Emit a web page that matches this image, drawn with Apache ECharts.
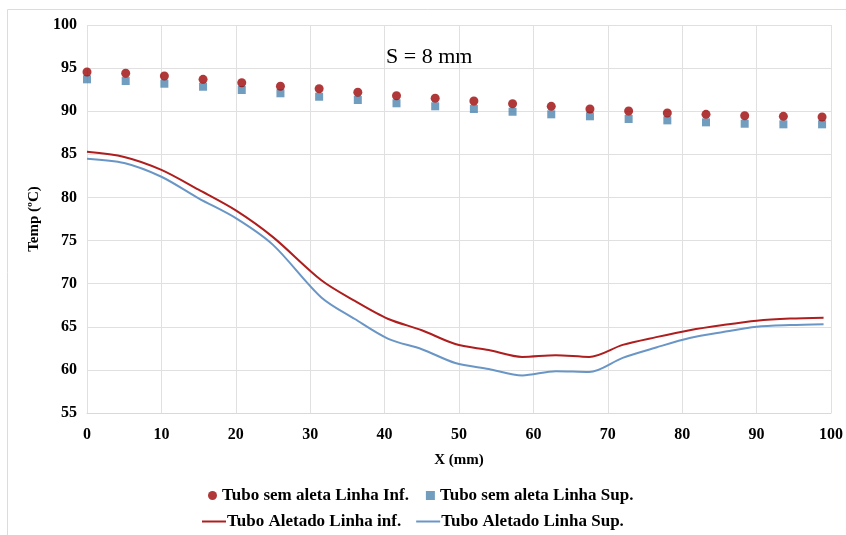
<!DOCTYPE html>
<html>
<head>
<meta charset="utf-8">
<script src="https://cdn.jsdelivr.net/npm/echarts@6/dist/echarts.min.js"></script>
<style>
  html, body { margin: 0; padding: 0; background: #fff; }
  #chart { width: 846px; height: 535px; }
</style>
</head>
<body>
<div id="chart"></div>
<script>
// pontos medidos (tubo sem aleta)
var xPts = [0, 5.2, 10.4, 15.6, 20.8, 26, 31.2, 36.4, 41.6, 46.8, 52, 57.2, 62.4, 67.6, 72.8, 78, 83.2, 88.4, 93.6, 98.8]
var semAletaInf = [94.55, 94.4, 94.08, 93.7, 93.3, 92.9, 92.6, 92.2, 91.8, 91.5, 91.18, 90.87, 90.57, 90.26, 90.02, 89.79, 89.64, 89.48, 89.41, 89.33]
var semAletaSup = [93.7, 93.5, 93.19, 92.84, 92.46, 92.08, 91.68, 91.3, 90.92, 90.57, 90.26, 89.94, 89.64, 89.41, 89.1, 88.94, 88.71, 88.55, 88.48, 88.48]

// curvas (tubo aletado)
var xLine = [0, 5, 10, 15, 20, 25, 31.5, 36, 40.5, 45, 49.5, 54, 58.5, 63, 67.5, 72, 76.5, 81, 85.5, 90, 94.5, 99]
var aletadoInf = [85.3, 84.7, 83.2, 80.9, 78.5, 75.4, 70.4, 68.0, 65.9, 64.6, 63.0, 62.3, 61.5, 61.7, 61.5, 62.9, 63.8, 64.6, 65.2, 65.7, 65.95, 66.05]
var aletadoSup = [84.5, 84.0, 82.4, 79.9, 77.6, 74.5, 68.4, 65.9, 63.6, 62.4, 60.8, 60.1, 59.35, 59.85, 59.75, 61.4, 62.6, 63.7, 64.4, 65.0, 65.2, 65.3]

var names = ['Tubo sem aleta Linha Inf.', 'Tubo sem aleta Linha Sup.', 'Tubo Aletado Linha inf.', 'Tubo Aletado Linha Sup.']

function pairs(xs, ys) {
  return xs.map(function (x, i) { return [x, ys[i]] })
}

var serif = '"Liberation Serif", "Times New Roman", serif'
var legendText = { fontFamily: serif, fontWeight: 'bold', fontSize: 17, color: '#000' }
var lineIcon = 'path://M0,0 L24,0 L24,2 L0,2 Z'
var myChart = echarts.init(document.getElementById('chart'))

var option = {
  backgroundColor: '#ffffff',
  animation: false,
  grid: { left: 87, right: 14, top: 25, bottom: 122 },
  graphic: [
    {
      type: 'rect',
      shape: { x: 7.5, y: 9.5, width: 850, height: 540 },
      style: { fill: 'none', stroke: '#dcdcdc', lineWidth: 1 },
      silent: true
    },
    {
      type: 'text',
      left: 386,
      top: 46,
      style: { text: 'S = 8 mm', font: '22px ' + serif, fill: '#000' }
    }
  ],
  legend: [
    {
      data: [
        { name: names[0], icon: 'circle' },
        { name: names[1], icon: 'rect' }
      ],
      top: 482,
      left: 203,
      itemGap: 17,
      itemWidth: 9,
      itemHeight: 9,
      textStyle: legendText
    },
    {
      data: [
        { name: names[2], icon: lineIcon },
        { name: names[3], icon: lineIcon }
      ],
      top: 508,
      left: 197,
      itemGap: 15,
      itemWidth: 24,
      itemHeight: 2,
      textStyle: Object.assign({}, legendText, { padding: [0, 0, 0, -4] })
    }
  ],
  xAxis: {
    type: 'value',
    min: 0,
    max: 100,
    interval: 10,
    name: 'X (mm)',
    nameLocation: 'middle',
    nameGap: 40,
    nameTextStyle: { fontFamily: serif, fontWeight: 'bold', fontSize: 15, color: '#000' },
    axisLine: { show: true, lineStyle: { color: '#d9d9d9' } },
    axisTick: { show: false },
    axisLabel: { fontFamily: serif, fontWeight: 'bold', fontSize: 16, color: '#000', margin: 14 },
    splitLine: { show: true, lineStyle: { color: '#e0e0e0' } }
  },
  yAxis: {
    type: 'value',
    min: 55,
    max: 100,
    interval: 5,
    name: 'Temp (ºC)',
    nameLocation: 'middle',
    nameGap: 45,
    nameTextStyle: { fontFamily: serif, fontWeight: 'bold', fontSize: 15, color: '#000' },
    axisLine: { show: false },
    axisTick: { show: false },
    axisLabel: { fontFamily: serif, fontWeight: 'bold', fontSize: 16, color: '#000', margin: 10 },
    splitLine: { show: true, lineStyle: { color: '#e0e0e0' } }
  },
  series: [
    {
      name: names[0],
      type: 'scatter',
      symbol: 'circle',
      symbolSize: 9,
      itemStyle: { color: '#9E0606' },
      data: pairs(xPts, semAletaInf),
      z: 3
    },
    {
      name: names[1],
      type: 'scatter',
      symbol: 'rect',
      symbolSize: 8,
      itemStyle: { color: '#4E84AE' },
      data: pairs(xPts, semAletaSup),
      z: 2
    },
    {
      name: names[2],
      type: 'line',
      smooth: 0.3,
      symbol: 'none',
      lineStyle: { color: '#AE1E1E', width: 2 },
      itemStyle: { color: '#AE1E1E' },
      data: pairs(xLine, aletadoInf)
    },
    {
      name: names[3],
      type: 'line',
      smooth: 0.3,
      symbol: 'none',
      lineStyle: { color: '#6A96C6', width: 2 },
      itemStyle: { color: '#6A96C6' },
      data: pairs(xLine, aletadoSup)
    }
  ]
}

myChart.setOption(option)
</script>
</body>
</html>
